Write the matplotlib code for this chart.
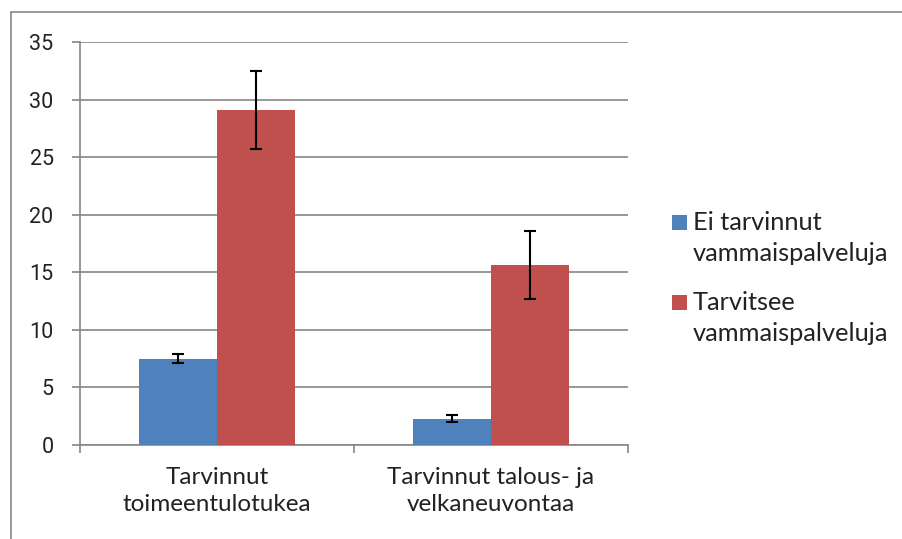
import numpy as np
import matplotlib.pyplot as plt
from matplotlib.patches import Rectangle

# Group labels and series values
categories = ['Tarvinnut\ntoimeentulotukea', 'Tarvinnut talous- ja\nvelkaneuvontaa']
series_names = ['Ei tarvinnut\nvammaispalveluja', 'Tarvitsee\nvammaispalveluja']
no_need = [7.5, 2.3]
no_need_err = [0.4, 0.27]
need = [29.1, 15.6]
need_err = [3.35, 2.95]

BLUE = '#4f81bd'
RED = '#c0504d'
GRID = '#868686'
TEXT = '#222222'
W, H = 902, 539

plt.rcParams['font.family'] = ['Lato', 'DejaVu Sans']

fig = plt.figure(figsize=(W / 100, H / 100), dpi=100)
ax = fig.add_axes([80 / W, 1 - 445 / H, 548 / W, 403 / H])

# outer chart frame
fig.patches.append(Rectangle((11 / W, -0.1), 1.2, 1 - 12 / H + 0.1,
                             transform=fig.transFigure, fill=False,
                             edgecolor=GRID, linewidth=1.2))

x = np.arange(len(categories))
w = 0.285
colors = [BLUE, RED]
ax.bar(x - w / 2, no_need, w, color=BLUE, zorder=3)
ax.bar(x + w / 2, need, w, color=RED, zorder=3)
ax.errorbar(x - w / 2, no_need, yerr=no_need_err, fmt='none', ecolor='black',
            elinewidth=1.5, capsize=4.3, capthick=1.5, zorder=4)
ax.errorbar(x + w / 2, need, yerr=need_err, fmt='none', ecolor='black',
            elinewidth=1.5, capsize=4.3, capthick=1.5, zorder=4)

ax.set_xlim(-0.5, 1.5)
ax.set_ylim(0, 35)
ax.set_yticks(np.arange(0, 36, 5))
ax.yaxis.grid(True, color=GRID, linewidth=1.2, zorder=0)
ax.set_axisbelow(True)

# category boundaries as ticks, labels centred below each group
ax.set_xticks([-0.5, 0.5, 1.5])
ax.set_xticklabels([])
ax.set_xticks(x, minor=True)
ax.set_xticklabels(categories, minor=True, fontsize=17.5, color=TEXT,
                   linespacing=1.35)
ax.tick_params(axis='x', which='minor', length=0, pad=16)
ax.tick_params(axis='x', which='major', length=5.5, color=GRID, width=1.2)
ax.tick_params(axis='y', length=6, color=GRID, width=1.2, labelsize=15.5,
               labelcolor=TEXT, pad=13, labelfontfamily='Roboto')

for side in ['top', 'right']:
    ax.spines[side].set_visible(False)
for side in ['left', 'bottom']:
    ax.spines[side].set_color(GRID)
    ax.spines[side].set_linewidth(1.2)

# legend: colour square beside the first line of each two-line label
for i, name in enumerate(series_names):
    base = 230 + 80 * i
    fig.patches.append(Rectangle((672 / W, 1 - base / H), 15 / W, 15 / H,
                                 transform=fig.transFigure,
                                 facecolor=colors[i], edgecolor='none'))
    for j, line in enumerate(name.split('\n')):
        fig.text(693 / W, 1 - (base + 31 * j) / H, line, fontsize=18.3,
                 color=TEXT, va='baseline', ha='left')

fig.savefig('out.png', dpi=100)
